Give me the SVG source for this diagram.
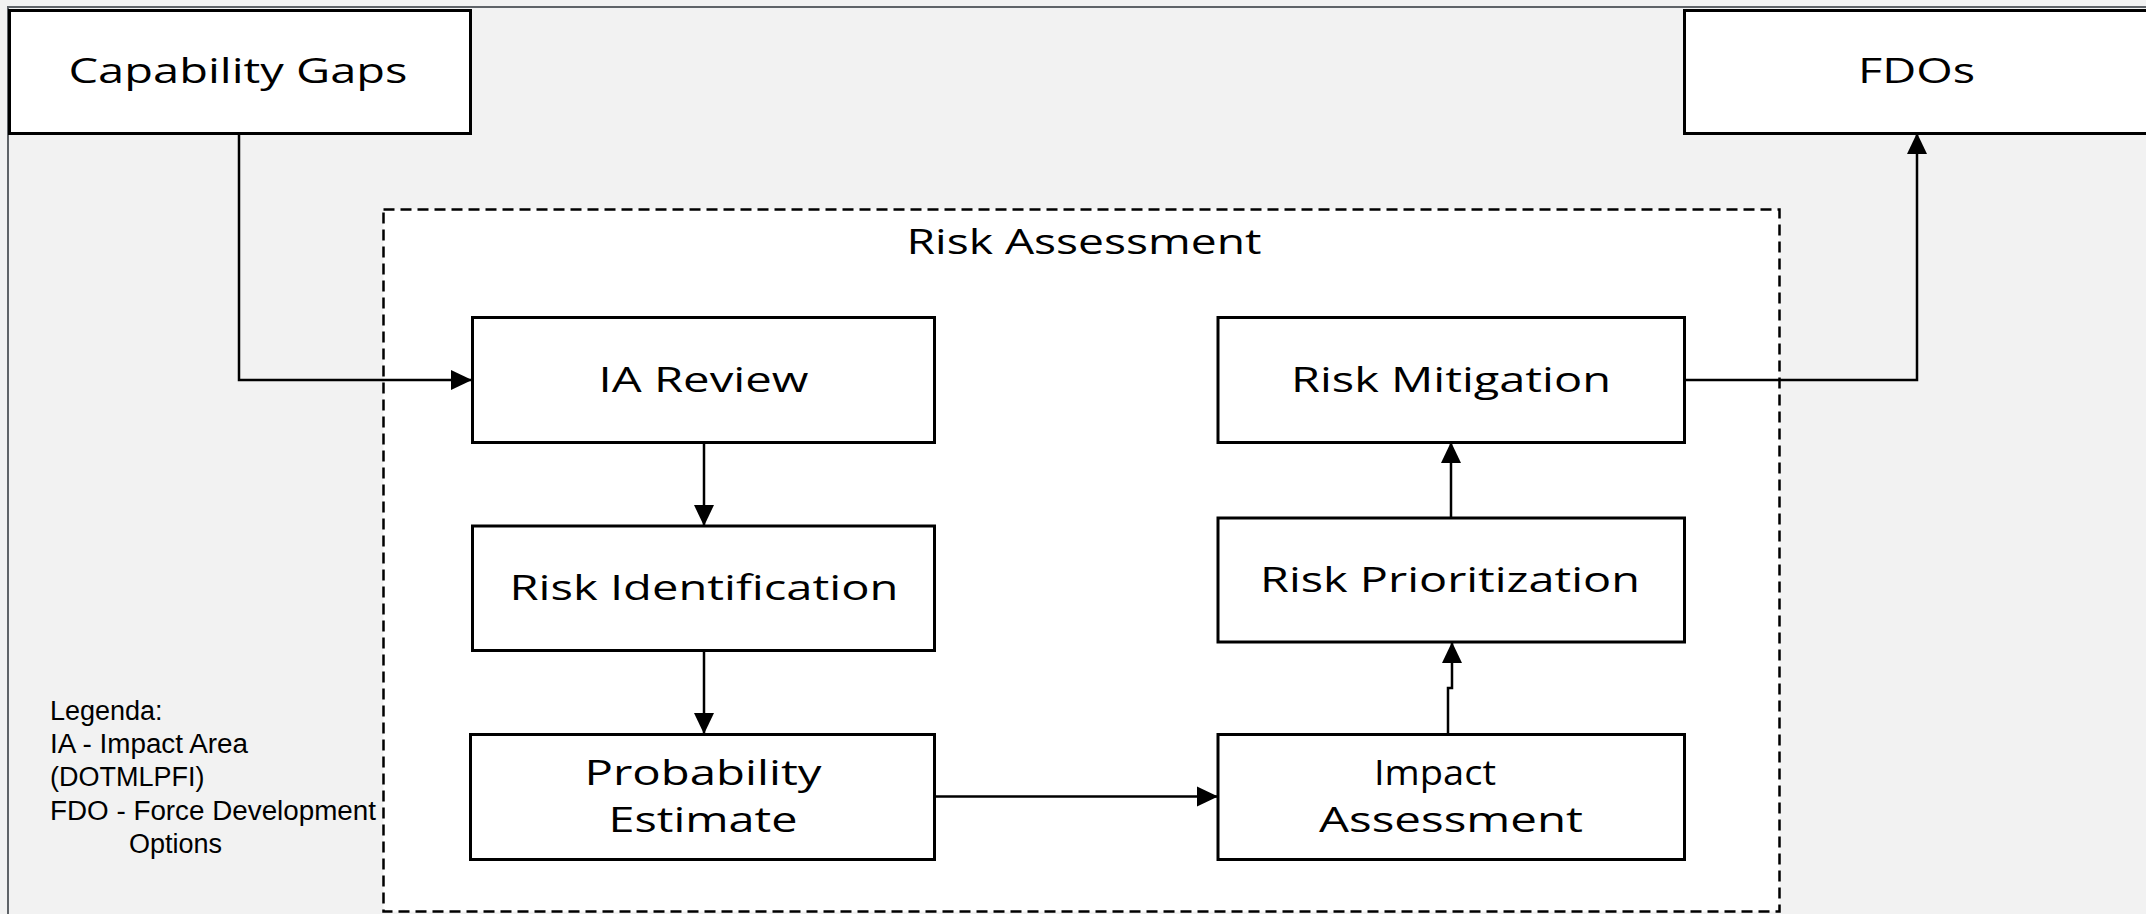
<svg xmlns="http://www.w3.org/2000/svg" width="2146" height="914" viewBox="0 0 2146 914">
  <style>
    .box { fill: #ffffff; stroke: #000000; stroke-width: 3; }
    .lbl { font-family: "Open Sans", "Noto Sans", "DejaVu Sans", sans-serif; font-size: 34px; fill: #000000; text-anchor: middle; }
    .leg { font-family: "Liberation Sans", Arial, sans-serif; font-size: 27px; fill: #000000; }
    .conn { fill: none; stroke: #000000; stroke-width: 2.5; }
  </style>
  <defs>
    <marker id="arrow" markerUnits="userSpaceOnUse" markerWidth="22" markerHeight="22" viewBox="0 0 22 22" refX="21" refY="11" orient="auto">
      <path d="M0,1 L21,11 L0,21 Z" fill="#000000"/>
    </marker>
  </defs>

  <rect x="0" y="0" width="2146" height="914" fill="#f2f2f2"/>
  <path d="M8,914 L8,7 L2146,7" fill="none" stroke="#5f6368" stroke-width="2"/>

  <g id="risk-assessment">
    <rect x="383.5" y="209.5" width="1396" height="702" fill="#ffffff" stroke="#000000" stroke-width="2.5" stroke-dasharray="11,6"/>
    <text class="lbl" x="1084" y="254" textLength="355" lengthAdjust="spacingAndGlyphs">Risk Assessment</text>
  </g>

  <g id="capability-gaps">
    <rect class="box" x="9.5" y="10.5" width="461" height="123"/>
    <text class="lbl" x="238" y="83" textLength="339" lengthAdjust="spacingAndGlyphs">Capability Gaps</text>
  </g>

  <g id="fdos">
    <rect class="box" x="1684.5" y="10.5" width="470" height="123"/>
    <text class="lbl" x="1916.5" y="83" textLength="117" lengthAdjust="spacingAndGlyphs">FDOs</text>
  </g>

  <g id="ia-review">
    <rect class="box" x="472.5" y="317.5" width="462" height="125"/>
    <text class="lbl" x="703.5" y="392" textLength="210" lengthAdjust="spacingAndGlyphs">IA Review</text>
  </g>

  <g id="risk-identification">
    <rect class="box" x="472.5" y="526" width="462" height="124.5"/>
    <text class="lbl" x="704" y="600" textLength="389" lengthAdjust="spacingAndGlyphs">Risk Identification</text>
  </g>

  <g id="probability-estimate">
    <rect class="box" x="470.5" y="734.5" width="464" height="125"/>
    <text class="lbl" x="703" y="785" textLength="237" lengthAdjust="spacingAndGlyphs">Probability</text>
    <text class="lbl" x="703" y="832" textLength="189" lengthAdjust="spacingAndGlyphs">Estimate</text>
  </g>

  <g id="risk-mitigation">
    <rect class="box" x="1218" y="317.5" width="466.5" height="125"/>
    <text class="lbl" x="1451" y="392" textLength="320" lengthAdjust="spacingAndGlyphs">Risk Mitigation</text>
  </g>

  <g id="risk-prioritization">
    <rect class="box" x="1218" y="518" width="466.5" height="124"/>
    <text class="lbl" x="1450" y="592" textLength="380" lengthAdjust="spacingAndGlyphs">Risk Prioritization</text>
  </g>

  <g id="impact-assessment">
    <rect class="box" x="1218" y="734.5" width="466.5" height="125"/>
    <text class="lbl" x="1435" y="785" textLength="122" lengthAdjust="spacingAndGlyphs">Impact</text>
    <text class="lbl" x="1451" y="832" textLength="264" lengthAdjust="spacingAndGlyphs">Assessment</text>
  </g>

  <g id="legend">
    <text class="leg" x="50" y="720">Legenda:</text>
    <text class="leg" x="50" y="753" textLength="198" lengthAdjust="spacingAndGlyphs">IA - Impact Area</text>
    <text class="leg" x="50" y="786">(DOTMLPFI)</text>
    <text class="leg" x="50" y="819.5" textLength="326" lengthAdjust="spacingAndGlyphs">FDO - Force Development</text>
    <text class="leg" x="129" y="853">Options</text>
  </g>

  <g id="connectors">
    <path class="conn" d="M239,133 L239,380 L472,380" marker-end="url(#arrow)"/>
    <path class="conn" d="M704,442 L704,526" marker-end="url(#arrow)"/>
    <path class="conn" d="M704,651 L704,734" marker-end="url(#arrow)"/>
    <path class="conn" d="M935,796.5 L1218,796.5" marker-end="url(#arrow)"/>
    <path class="conn" d="M1448,734 L1448,688 L1452,688 L1452,642" marker-end="url(#arrow)"/>
    <path class="conn" d="M1451,518 L1451,442" marker-end="url(#arrow)"/>
    <path class="conn" d="M1685,380 L1917,380 L1917,133" marker-end="url(#arrow)"/>
  </g>
</svg>
